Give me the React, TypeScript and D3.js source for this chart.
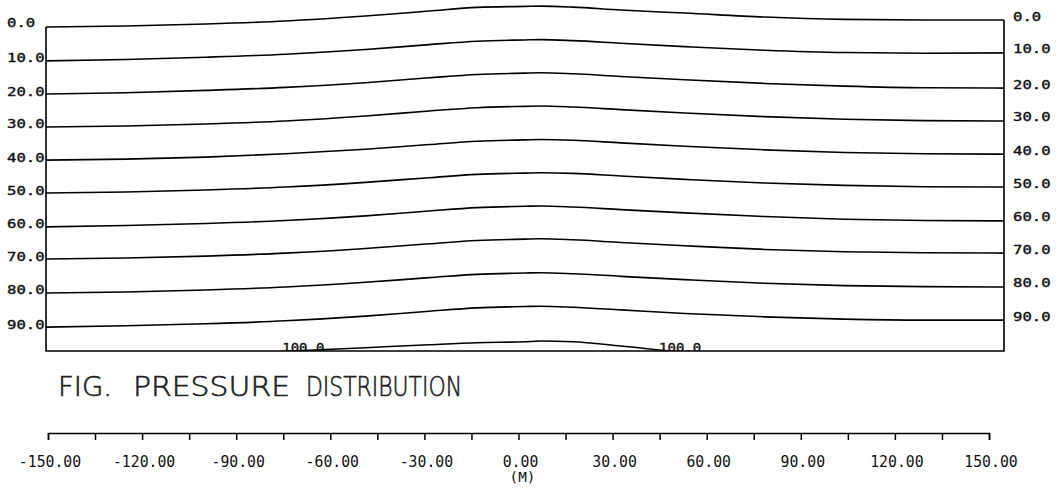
import React, { useEffect, useRef } from 'react'
import * as d3 from 'd3'

// distance along the section (M)
const distance = [-150, -125, -100, -75, -50, -30, -15, 0, 5, 15, 30, 50, 75, 100, 125, 150]

// depth of each pressure contour at those distances
const p0 = [0.0, -0.3, -0.9, -1.8, -3.3, -4.8, -5.9, -6.2, -6.3, -6.0, -5.1, -4.2, -3.0, -2.3, -2.1, -2.1]
const p10 = [10.2, 9.8, 9.1, 8.2, 6.8, 5.3, 4.3, 3.9, 3.8, 4.1, 4.9, 5.9, 7.0, 7.7, 7.9, 7.8]
const p20 = [20.2, 19.8, 19.1, 18.2, 16.8, 15.3, 14.3, 13.9, 13.8, 14.1, 14.9, 15.9, 17.0, 17.8, 18.3, 18.4]
const p30 = [30.1, 29.8, 29.2, 28.3, 26.8, 25.3, 24.3, 23.9, 23.8, 24.1, 24.9, 25.9, 27.0, 27.8, 28.2, 28.3]
const p40 = [40.1, 39.8, 39.2, 38.2, 36.8, 35.4, 34.4, 34.0, 33.9, 34.1, 34.9, 35.9, 37.0, 37.8, 38.2, 38.3]
const p50 = [50.0, 49.7, 49.1, 48.2, 46.8, 45.4, 44.4, 44.0, 43.9, 44.1, 44.9, 45.9, 47.0, 47.7, 48.1, 48.2]
const p60 = [60.2, 59.8, 59.2, 58.3, 56.9, 55.4, 54.4, 54.0, 53.9, 54.2, 55.0, 56.0, 57.1, 57.9, 58.3, 58.4]
const p70 = [69.9, 69.6, 69.0, 68.1, 66.7, 65.3, 64.3, 63.9, 63.8, 64.1, 64.9, 65.9, 67.0, 67.7, 68.0, 68.1]
const p80 = [80.1, 79.8, 79.2, 78.3, 76.9, 75.5, 74.5, 74.1, 74.0, 74.3, 75.1, 76.1, 77.2, 77.9, 78.2, 78.3]
const p90 = [90.4, 90.0, 89.4, 88.5, 87.1, 85.6, 84.6, 84.2, 84.1, 84.4, 85.2, 86.3, 87.3, 88.0, 88.3, 88.3]
const p100 = [101.0, 100.4, 99.2, 97.7, 96.6, 95.7, 95.1, 94.8, 94.6, 94.8, 96.1, 98.0, 99.5, 100.0, 100.3, 100.3]

const contours = [p0, p10, p20, p30, p40, p50, p60, p70, p80, p90, p100]
const levelLabels = ['0.0', '10.0', '20.0', '30.0', '40.0', '50.0', '60.0', '70.0', '80.0', '90.0']

// labels written on the 100 contour near the bottom
const innerLabelAt = [-76, 42]
const innerLabel = '100.0'

const axisTicks = [-150, -120, -90, -60, -30, 0, 30, 60, 90, 120, 150]
const axisLabels = ['-150.00', '-120.00', '-90.00', '-60.00', '-30.00', '0.00', '30.00', '60.00', '90.00', '120.00', '150.00']
const axisUnit = '(M)'
const titleWords = ['FIG.', 'PRESSURE', 'DISTRIBUTION']

const mono = '"DejaVu Sans Mono", "Liberation Mono", monospace'

export default function App() {
  const ref = useRef<SVGSVGElement>(null)

  useEffect(() => {
    const svg = d3.select(ref.current)
    svg.selectAll('*').remove()

    const boxBottom = 351
    const x = d3.scaleLinear().domain([-150, 150]).range([46, 1004])
    const y = d3.scaleLinear().domain([0, 100]).range([27, 359])

    svg.append('defs').append('clipPath').attr('id', 'box')
      .append('rect')
      .attr('x', x(-150)).attr('y', 0)
      .attr('width', x(150) - x(-150)).attr('height', boxBottom)

    const line = d3.line<number>()
      .x((d, i) => x(distance[i]))
      .y(d => y(d))
      .curve(d3.curveMonotoneX)

    const g = svg.append('g')
    const lines = g.append('g').attr('clip-path', 'url(#box)')
    contours.forEach(depths => {
      lines.append('path')
        .datum(depths)
        .attr('d', line)
        .attr('fill', 'none')
        .attr('stroke', '#000')
        .attr('stroke-width', 1.6)
    })

    // frame: sides start at the surface contour
    const top = contours[0]
    g.append('path')
      .attr('d', 'M' + x(-150) + ',' + y(top[0]) + 'V' + boxBottom + 'H' + x(150) + 'V' + y(top[top.length - 1]))
      .attr('fill', 'none')
      .attr('stroke', '#000')
      .attr('stroke-width', 1.6)

    const smallText = (sel: any, lab: string, w: number) =>
      sel.attr('font-family', mono)
        .attr('font-size', 11.5)
        .attr('fill', '#111')
        .attr('stroke', '#111')
        .attr('stroke-width', 0.35)
        .attr('textLength', w)
        .attr('lengthAdjust', 'spacingAndGlyphs')
        .text(lab)

    // contour labels on both sides
    levelLabels.forEach((lab, i) => {
      const d = contours[i]
      smallText(g.append('text').attr('x', 7).attr('y', y(d[0]) + (i === 0 ? 0 : 1.5)), lab, lab.length * 9.4)
      smallText(g.append('text').attr('x', 1013).attr('y', y(d[d.length - 1]) + 0.5), lab, lab.length * 9.4)
    })

    innerLabelAt.forEach(m => {
      smallText(lines.append('text').attr('x', x(m)).attr('y', boxBottom + 1), innerLabel, 42)
    })

    // title
    const titleX = [58, 133, 306]
    const titleW = [54, 157, 156]
    titleWords.forEach((w, i) => {
      g.append('text')
        .attr('x', titleX[i])
        .attr('y', 396)
        .attr('font-family', '"DejaVu Sans", sans-serif')
        .attr('font-weight', 200)
        .attr('font-size', 26)
        .attr('fill', '#222')
        .attr('stroke', '#222')
        .attr('stroke-width', 0.6)
        .attr('textLength', titleW[i])
        .attr('lengthAdjust', 'spacingAndGlyphs')
        .text(w)
    })

    // bottom distance axis
    const xa = d3.scaleLinear().domain([-150, 150]).range([48, 989])
    const axis = g.append('g')
      .attr('transform', 'translate(0,433)')
      .call(d3.axisBottom(xa)
        .tickValues(d3.range(-150, 151, 15))
        .tickSize(7)
        .tickSizeOuter(7)
        .tickFormat(() => ''))
    axis.select('.domain').attr('stroke', '#000').attr('stroke-width', 1.5)
    axis.selectAll('.tick line').attr('stroke', '#000').attr('stroke-width', 1.5)

    axisTicks.forEach((v, i) => {
      const lab = axisLabels[i]
      g.append('text')
        .attr('x', xa(v) + 2)
        .attr('y', 467)
        .attr('text-anchor', 'middle')
        .attr('font-family', mono)
        .attr('font-size', 16)
        .attr('fill', '#111')
        .attr('textLength', lab.length * 8.9)
        .attr('lengthAdjust', 'spacingAndGlyphs')
        .text(lab)
    })

    g.append('text')
      .attr('x', xa(0) + 4)
      .attr('y', 482)
      .attr('text-anchor', 'middle')
      .attr('font-family', mono)
      .attr('font-size', 14)
      .attr('fill', '#111')
      .attr('textLength', 26)
      .attr('lengthAdjust', 'spacingAndGlyphs')
      .text(axisUnit)
  }, [])

  return (
    <svg
      ref={ref}
      width={1062}
      height={491}
      style={{ position: 'absolute', left: 0, top: 0, background: '#fff' }}
    />
  )
}
